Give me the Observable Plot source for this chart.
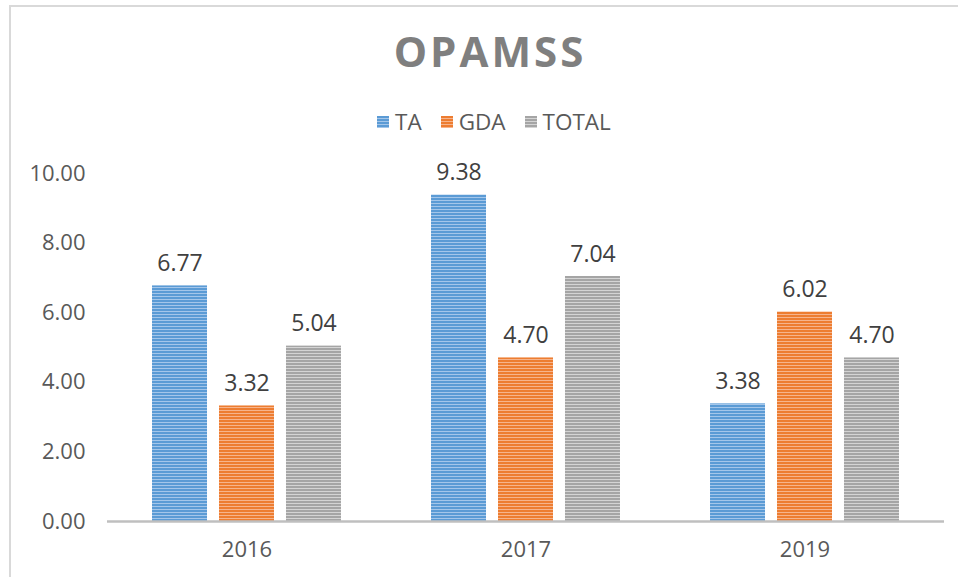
<!DOCTYPE html>
<html>
<head>
<meta charset="utf-8">
<script src="https://cdn.jsdelivr.net/npm/d3@7"></script>
<script src="https://cdn.jsdelivr.net/npm/@observablehq/plot@0.6"></script>
<style>
  html, body { margin: 0; padding: 0; background: #fff; }
  body { width: 958px; height: 577px; position: relative; overflow: hidden; font-family: "Open Sans", sans-serif; }
  #frame { position: absolute; left: 9px; top: 5px; width: 1000px; height: 700px; border-left: 2px solid #d9d9d9; border-top: 2px solid #d9d9d9; box-sizing: border-box; }
  #title { position: absolute; left: 0; width: 980px; top: 30px; text-align: center; font-size: 42px; line-height: 42px; font-weight: 700; color: #7f7f7f; letter-spacing: 3px; }
  #legend { position: absolute; left: 377px; top: 110px; display: flex; align-items: center; font-size: 22.5px; line-height: 24px; color: #595959; }
  .item { display: flex; align-items: center; margin-right: 19px; }
  .sw { width: 12px; height: 12px; margin-right: 6px; }
  #chart { position: absolute; left: -1px; top: 150px; }
</style>
</head>
<body>
<div id="frame"></div>
<div id="title">OPAMSS</div>
<div id="legend"></div>
<div id="chart"></div>
<script>
const years = ["2016", "2017", "2019"];
const series = ["TA", "GDA", "TOTAL"];
const TA = [6.77, 9.38, 3.38];
const GDA = [3.32, 4.70, 6.02];
const TOTAL = [5.04, 7.04, 4.70];
const yTicks = [0, 2, 4, 6, 8, 10];
const baseColors = ["#5b9bd5", "#ed7d31", "#a5a5a5"];
const lightColors = ["#a4c6ea", "#f6b48c", "#d4d4d4"];

const values = {TA, GDA, TOTAL};
const data = [];
years.forEach((yr, i) => series.forEach(s => data.push({year: yr, series: s, value: values[s][i]})));

// legend
const legend = document.getElementById("legend");
series.forEach((s, i) => {
  const it = document.createElement("div");
  it.className = "item";
  const sw = document.createElement("div");
  sw.className = "sw";
  sw.style.background = `repeating-linear-gradient(to bottom, ${baseColors[i]} 0px, ${baseColors[i]} 2px, ${lightColors[i]} 2px, ${lightColors[i]} 3px)`;
  it.appendChild(sw);
  const t = document.createElement("span");
  t.textContent = s;
  it.appendChild(t);
  legend.appendChild(it);
});

const patIds = series.map(s => "pat" + s);

const chart = Plot.plot({
  width: 958,
  height: 427,
  marginLeft: 108,
  marginRight: 13,
  marginTop: 23,
  marginBottom: 56,
  style: {fontFamily: "Open Sans, sans-serif", fontSize: "22px", color: "#595959", background: "transparent", overflow: "visible"},
  fx: {domain: years, axis: "bottom", label: null, tickSize: 0, tickPadding: 20, padding: 0, round: false},
  x: {domain: series, axis: null, paddingInner: 0.179, paddingOuter: 0.672, round: false},
  y: {domain: [0, 10], ticks: yTicks, tickFormat: d => d.toFixed(2), tickSize: 0, tickPadding: 22, label: null, line: false},
  color: {type: "ordinal", domain: series, range: patIds.map(id => `url(#${id})`)},
  marks: [
    Plot.barY(data, {fx: "year", x: "series", y: "value", fill: "series"}),
    Plot.ruleY([0], {stroke: "#bfbfbf", strokeWidth: 2.5}),
    Plot.text(data, {fx: "year", x: "series", y: "value", text: d => d.value.toFixed(2), lineAnchor: "bottom", dy: -15, fill: "#404040", fontSize: 23})
  ]
});

const svg = d3.select(chart);
const defs = svg.insert("defs", ":first-child");
series.forEach((s, i) => {
  const p = defs.append("pattern").attr("id", patIds[i]).attr("patternUnits", "userSpaceOnUse")
    .attr("width", 8).attr("height", 3);
  p.append("rect").attr("width", 8).attr("height", 3).attr("fill", baseColors[i]);
  p.append("rect").attr("y", 2).attr("width", 8).attr("height", 1).attr("fill", lightColors[i]);
});
document.getElementById("chart").appendChild(chart);
</script>
</body>
</html>
